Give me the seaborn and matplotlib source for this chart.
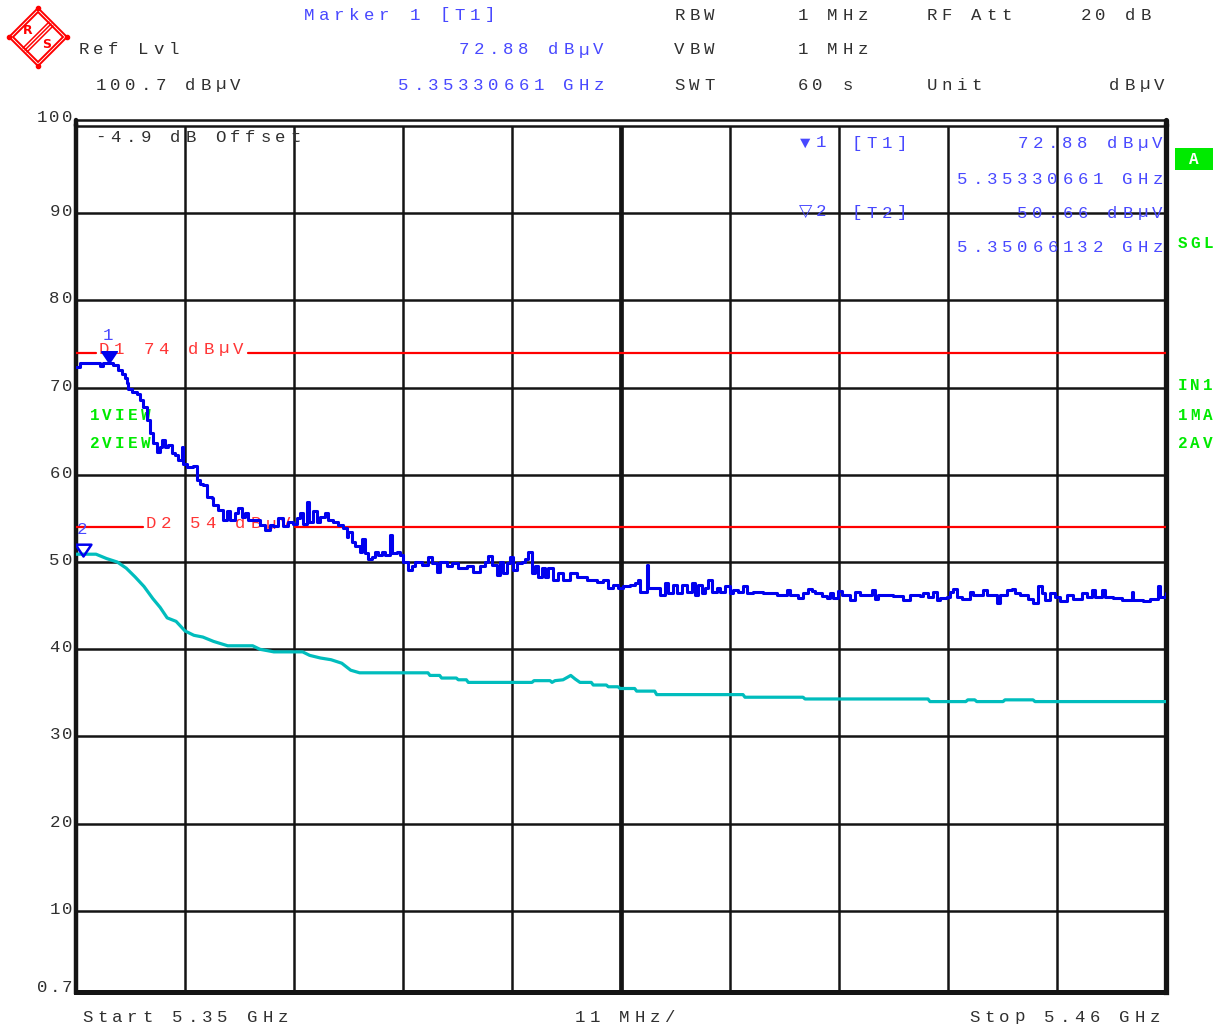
import numpy as np
import pandas as pd
import seaborn as sns
import matplotlib
matplotlib.use("Agg")
import matplotlib.pyplot as plt
from matplotlib.transforms import offset_copy
from matplotlib.patches import Polygon, Rectangle
from matplotlib.lines import Line2D

W, H = 1224, 1028

# sweep settings (GHz / dBuV)
f_start, f_stop, span_div = 5.35, 5.46, 0.011
ref_lvl = 100.7
y_bottom, y_top = 0.7, 100.0
ytick_vals = [100, 90, 80, 70, 60, 50, 40, 30, 20, 10, 0.7]
ytick_txt = ["100", "90", "80", "70", "60", "50", "40", "30", "20", "10", "0.7"]

limit_d1 = 74
limit_d2 = 54
mk1_freq, mk1_level = 5.35330661, 72.88
mk2_freq, mk2_level = 5.35066132, 50.66

# trace 1 (max peak): offset from start in MHz, level in dBuV
pk_off = [0.0, 0.4, 2.09, 2.42, 2.72, 3.31, 3.73, 4.24, 4.61, 4.94,
          5.12, 5.28, 5.62, 6.12, 6.46, 6.79, 7.13, 7.47, 7.80, 8.14,
          8.48, 8.65, 8.98, 9.31, 9.66, 9.99, 10.32, 10.67, 10.83, 11.17,
          11.84, 12.18, 12.51, 12.85, 13.19, 13.69, 13.86, 14.36, 14.86, 15.21,
          15.54, 16.04, 16.38, 16.72, 17.05, 17.39, 17.89, 18.57, 19.07, 19.58,
          19.91, 20.42, 20.92, 21.42, 21.93, 22.27, 22.60, 22.94, 23.28, 23.54,
          23.95, 24.29, 24.62, 25.13, 25.46, 25.96, 26.47, 26.97, 27.31, 27.48,
          27.82, 28.15, 28.66, 28.83, 29.16, 29.49, 29.84, 30.17, 30.50, 30.85,
          31.18, 31.68, 31.85, 32.36, 32.69, 33.03, 33.53, 33.87, 34.21, 34.88,
          35.55, 35.89, 36.40, 36.73, 37.41, 37.91, 38.58, 39.43, 40.09, 40.77,
          41.27, 41.61, 41.95, 42.45, 42.79, 43.12, 43.47, 43.79, 44.13, 44.47,
          44.97, 45.30, 45.64, 45.98, 46.31, 46.65, 46.99, 47.32, 47.66, 48.17,
          48.67, 49.17, 49.85, 50.52, 51.53, 52.54, 53.21, 53.71, 54.22, 54.72,
          55.23, 55.90, 56.41, 56.74, 56.91, 57.59, 57.75, 58.76, 58.93, 59.43,
          59.77, 60.27, 60.61, 61.12, 61.62, 62.12, 62.46, 62.80, 63.14, 63.47,
          63.80, 64.15, 64.65, 64.99, 65.49, 66.00, 66.33, 66.83, 67.34, 67.68,
          68.35, 69.36, 70.71, 71.71, 72.05, 72.89, 73.40, 73.90, 74.24, 74.58,
          75.25, 75.76, 76.09, 76.42, 76.93, 77.27, 78.11, 78.61, 79.12, 80.30,
          80.63, 80.96, 82.48, 83.49, 84.16, 85.17, 85.50, 86.01, 86.51, 86.86,
          87.19, 87.86, 88.20, 88.53, 88.87, 89.38, 90.21, 90.55, 91.56, 91.90,
          92.91, 93.25, 93.92, 94.43, 94.76, 95.26, 96.10, 96.61, 97.11, 97.45,
          97.79, 98.29, 98.80, 99.30, 99.97, 100.64, 101.49, 101.99, 102.50, 102.83,
          103.51, 103.84, 104.68, 105.53, 106.54, 106.70, 107.71, 108.38, 109.22, 109.39,
          110.0]
pk_lvl = [72.4, 72.8, 72.85, 72.5, 72.8, 72.88, 72.6, 72.0, 71.6, 71.1,
          70.5, 69.9, 69.5, 69.3, 68.6, 67.8, 66.3, 64.8, 63.6, 62.6,
          63.2, 64.0, 63.2, 63.4, 62.5, 62.3, 61.7, 63.2, 61.3, 60.9,
          61.0, 59.4, 59.0, 58.8, 57.5, 57.3, 56.5, 56.0, 54.8, 55.8,
          54.8, 55.6, 56.2, 55.2, 55.6, 54.8, 54.8, 54.2, 53.7, 54.2,
          54.1, 55.0, 54.1, 54.6, 54.4, 55.0, 55.6, 54.4, 56.9, 54.6,
          55.8, 54.6, 55.2, 55.6, 54.8, 54.6, 54.2, 53.9, 52.9, 53.5,
          52.3, 51.8, 51.2, 52.7, 51.0, 50.4, 50.6, 51.2, 50.8, 51.2,
          50.8, 53.1, 51.0, 51.2, 50.8, 50.0, 49.1, 49.5, 50.0, 49.7,
          50.6, 49.9, 48.9, 50.0, 49.5, 49.9, 49.3, 49.5, 48.9, 49.5,
          50.0, 50.7, 49.7, 48.5, 50.0, 48.7, 49.9, 50.6, 49.1, 49.9,
          50.0, 50.4, 51.2, 48.7, 49.5, 48.3, 49.3, 48.3, 49.3, 47.9,
          48.7, 47.9, 48.7, 48.3, 47.9, 47.7, 47.9, 47.0, 47.4, 47.0,
          47.2, 47.4, 47.6, 47.9, 46.6, 49.7, 47.0, 47.0, 46.2, 47.6,
          46.4, 47.4, 46.4, 47.4, 46.6, 47.6, 46.2, 47.4, 46.4, 47.0,
          47.9, 46.6, 47.0, 46.6, 47.2, 46.4, 46.8, 46.6, 47.2, 46.4,
          46.6, 46.4, 46.2, 46.8, 46.2, 45.9, 46.4, 46.9, 46.7, 46.4,
          46.1, 45.9, 46.4, 45.9, 46.7, 46.2, 45.7, 46.6, 46.2, 46.8,
          45.8, 46.2, 46.1, 45.6, 46.2, 46.1, 46.5, 46.0, 46.6, 45.7,
          45.9, 46.0, 46.6, 46.9, 46.0, 45.8, 46.6, 46.2, 46.8, 46.2,
          45.3, 46.2, 46.8, 46.9, 46.4, 46.2, 45.8, 45.3, 47.2, 46.4,
          45.6, 46.4, 46.0, 45.5, 46.2, 45.8, 46.4, 46.0, 46.8, 46.0,
          46.8, 46.0, 45.9, 45.7, 46.6, 45.6, 45.5, 45.8, 47.2, 46.0,
          46.4]

# trace 2 (average)
av_off = [0.0, 2.02, 3.09, 4.17, 5.07, 5.96, 6.86, 7.76, 8.49, 9.20,
          10.10, 11.00, 11.90, 12.80, 13.88, 15.31, 17.83, 18.55, 19.97, 22.87,
          23.58, 24.66, 25.74, 26.82, 27.72, 28.62, 35.52, 35.72, 36.70, 36.90,
          38.38, 38.58, 39.39, 39.59, 46.02, 46.22, 47.84, 48.04, 48.34, 49.15,
          49.93, 50.36, 50.86, 52.00, 52.20, 53.52, 53.72, 54.70, 54.90, 56.38,
          56.58, 58.40, 58.60, 67.31, 67.51, 73.37, 73.57, 85.98, 86.18, 89.80,
          90.00, 90.70, 90.90, 93.55, 93.75, 96.58, 96.78, 110.0]
av_lvl = [50.9, 50.9, 50.4, 50.0, 49.3, 48.3, 47.2, 45.8, 44.8, 43.6,
          43.2, 42.1, 41.6, 41.4, 40.9, 40.4, 40.4, 40.0, 39.7, 39.7,
          39.3, 39.0, 38.8, 38.4, 37.6, 37.3, 37.3, 37.0, 37.0, 36.7,
          36.7, 36.5, 36.5, 36.2, 36.2, 36.4, 36.4, 36.2, 36.4, 36.5,
          37.0, 36.6, 36.2, 36.2, 35.9, 35.9, 35.7, 35.7, 35.5, 35.5,
          35.2, 35.2, 34.8, 34.8, 34.5, 34.5, 34.3, 34.3, 34.0, 34.0,
          34.2, 34.2, 34.0, 34.0, 34.2, 34.2, 34.0, 34.0]

TRACE_BLUE = "#0000EE"
CYAN = "#00BDBD"
RED = "#FF0000"
RED_TXT = "#FF3535"
TXT_BLUE = "#4848FF"
GRAY = "#303030"
GREEN = "#00EA00"
GRID = "#141414"
FS = 12.5

sns.set_style("white")
plt.rcParams["font.family"] = ["Liberation Mono", "DejaVu Sans"]

fig = plt.figure(figsize=(W / 100, H / 100), dpi=100)
ax = fig.add_axes([76 / W, (H - 992) / H, 1090 / W, 866 / H])


def spaced(target, trans, x, y, s, pitch, ha="left", dx=0, dy=0, **kw):
    # monospace text with the wide letter pitch of the analyzer screen
    n = len(s)
    start = dx if ha == "left" else dx - n * pitch
    for i, ch in enumerate(s):
        if ch == " ":
            continue
        tr = offset_copy(trans, fig=fig, x=start + (i + 0.5) * pitch, y=dy, units="dots")
        target.text(x, y, ch, transform=tr, ha="center", va="baseline", **kw)


def label(x_px, y_px, s, pitch=15, ha="left", target=None, **kw):
    kw.setdefault("color", GRAY)
    kw.setdefault("fontsize", FS)
    spaced(target or fig, fig.transFigure, x_px / W, 1 - (y_px + 5.5) / H, s, pitch, ha=ha, **kw)


def fpt(x, y):
    return (x / W, 1 - y / H)


# traces
df_pk = pd.DataFrame({"freq": f_start + np.array(pk_off) / 1000, "level": pk_lvl})
df_av = pd.DataFrame({"freq": f_start + np.array(av_off) / 1000, "level": av_lvl})
sns.lineplot(data=df_av, x="freq", y="level", ax=ax, color=CYAN, lw=2.3,
             estimator=None, sort=False, zorder=4)
sns.lineplot(data=df_pk, x="freq", y="level", ax=ax, color=TRACE_BLUE, lw=2.2,
             estimator=None, sort=False, drawstyle="steps-post", zorder=5)

ax.set_xlim(f_start, f_stop)
ax.set_ylim(y_bottom, y_top)
ax.set_xlabel("")
ax.set_ylabel("")
ax.set_xticks([f_start + k * span_div for k in range(1, 10)])
ax.set_yticks(list(range(10, 100, 10)))
ax.tick_params(length=0, labelbottom=False, labelleft=False)
ax.set_axisbelow(True)
ax.grid(True, color=GRID, lw=1.8)
ax.axvline(f_start + 5 * span_div, color=GRID, lw=3.4, zorder=1)
for side, lw in [("left", 3.2), ("right", 3.8), ("bottom", 3.6), ("top", 1.8)]:
    ax.spines[side].set_color(GRID)
    ax.spines[side].set_linewidth(lw)
# double frame line at the top
t2 = 1 + 6 / 866
ax.plot([0, 1], [t2, t2], transform=ax.transAxes, color=GRID, lw=1.8, clip_on=False)
ax.plot([0, 0], [1, t2], transform=ax.transAxes, color=GRID, lw=3.2, clip_on=False)
ax.plot([1, 1], [1, t2], transform=ax.transAxes, color=GRID, lw=3.8, clip_on=False)

# limit lines with their labels
ytr = ax.get_yaxis_transform()
ax.plot([0, 20 / 1090], [limit_d1] * 2, transform=ytr, color=RED, lw=1.6, zorder=3)
ax.plot([172 / 1090, 1], [limit_d1] * 2, transform=ytr, color=RED, lw=1.6, zorder=3)
ax.plot([0, 67 / 1090], [limit_d2] * 2, transform=ytr, color=RED, lw=1.6, zorder=3)
ax.plot([219 / 1090, 1], [limit_d2] * 2, transform=ytr, color=RED, lw=1.6, zorder=3)
label(96, 348, f"D1 {limit_d1} dBµV", target=ax, color=RED_TXT, zorder=3)
label(143, 523, f"D2 {limit_d2} dBµV", target=ax, color=RED_TXT, zorder=3)

# markers: triangle tip on the trace
tri = [(-0.67, 1), (0.67, 1), (0, 0), (-0.67, 1)]
ax.plot([mk1_freq], [mk1_level], marker=tri, ms=17, color=TRACE_BLUE, ls="none", zorder=6)
ax.plot([mk2_freq], [mk2_level], marker=tri, ms=17, mfc="none", mec=TRACE_BLUE,
        mew=1.8, ls="none", zorder=6)
label(102, 335, "1", pitch=12, target=ax, color=TXT_BLUE)
label(76, 528, "2", pitch=12, target=ax, color=TXT_BLUE)

# y scale labels
for val, txt in zip(ytick_vals, ytick_txt):
    dy = 4 if val == y_top else (0 if val == y_bottom else -3)
    spaced(fig, ytr, 0, val, txt, 12.3, ha="right", dx=-3, dy=dy, color=GRAY, fontsize=FS)

# header
label(302, 14, "Marker 1 [T1]", color=TXT_BLUE)
label(76, 49, "Ref Lvl")
label(606, 49, f"{mk1_level:.2f} dBµV", ha="right", color=TXT_BLUE)
label(93, 84, f"{ref_lvl} dBµV")
label(396, 84, f"{mk1_freq:.8f} GHz", color=TXT_BLUE)
label(672, 14, "RBW")
label(795, 14, "1 MHz")
label(924, 14, "RF Att")
label(1078, 14, "20 dB")
label(672, 49, "VBW")
label(795, 49, "1 MHz")
label(672, 84, "SWT")
label(795, 84, "60 s")
label(924, 84, "Unit")
label(1167, 84, "dBµV", ha="right")

# footer
label(80, 1016, f"Start {f_start:.2f} GHz")
label(572, 1016, f"{span_div * 1000:.0f} MHz/")
label(1162, 1016, f"Stop {f_stop:.2f} GHz", ha="right")

# in-plot annotations
label(93, 136, "-4.9 dB Offset", target=ax)
label(798, 142, "▼1", target=ax, color=TXT_BLUE)
label(849, 143, "[T1]", target=ax, color=TXT_BLUE)
label(1165, 143, f"{mk1_level:.2f} dBµV", ha="right", target=ax, color=TXT_BLUE)
label(1165, 178, f"{mk1_freq:.8f} GHz", ha="right", target=ax, color=TXT_BLUE)
label(798, 211, "▽2", target=ax, color=TXT_BLUE)
label(849, 212, "[T2]", target=ax, color=TXT_BLUE)
label(1165, 212, f"{mk2_level:.2f} dBµV", ha="right", target=ax, color=TXT_BLUE)
label(1165, 247, f"{mk2_freq:.8f} GHz", ha="right", target=ax, color=TXT_BLUE)

# green status labels
gkw = dict(pitch=12.8, color=GREEN, fontsize=11.5, fontweight="bold")
label(88, 414, "1VIEW", target=ax, **gkw)
label(88, 442, "2VIEW", target=ax, **gkw)
label(1176, 243, "SGL", **gkw)
label(1176, 385, "IN1", **gkw)
label(1176, 414, "1MA", **gkw)
label(1176, 442, "2AV", **gkw)
fig.add_artist(Rectangle(fpt(1175, 170), 38 / W, 22 / H, transform=fig.transFigure,
                         color=GREEN, lw=0))
fig.text(1194 / W, 1 - 159 / H, "A", color="white", fontsize=11.5, fontweight="bold",
         ha="center", va="center")

# R&S logo
cx, cy = 38, 37
for r in (29, 25):
    fig.add_artist(Polygon([fpt(cx, cy - r), fpt(cx + r, cy), fpt(cx, cy + r), fpt(cx - r, cy)],
                           closed=True, fill=False, ec=RED, lw=1.4, transform=fig.transFigure))
for k in (-2.0, 0.0, 2.0):
    p0 = fpt(cx + 13 + k, cy - 13 + k)
    p1 = fpt(cx - 13 + k, cy + 13 + k)
    fig.add_artist(Line2D([p0[0], p1[0]], [p0[1], p1[1]], color=RED, lw=1.1,
                          transform=fig.transFigure))
corners = [fpt(cx, cy - 29), fpt(cx + 29, cy), fpt(cx, cy + 29), fpt(cx - 29, cy)]
fig.add_artist(Line2D([c[0] for c in corners], [c[1] for c in corners], ls="none",
                      marker="o", ms=3, color=RED, transform=fig.transFigure))
fig.text(*fpt(28, 30), "R", color=RED, fontsize=9, fontweight="bold", ha="center",
         va="center", family="DejaVu Sans")
fig.text(*fpt(47, 45), "S", color=RED, fontsize=9, fontweight="bold", ha="center",
         va="center", family="DejaVu Sans")

fig.savefig("out.png", dpi=100)
plt.close(fig)
